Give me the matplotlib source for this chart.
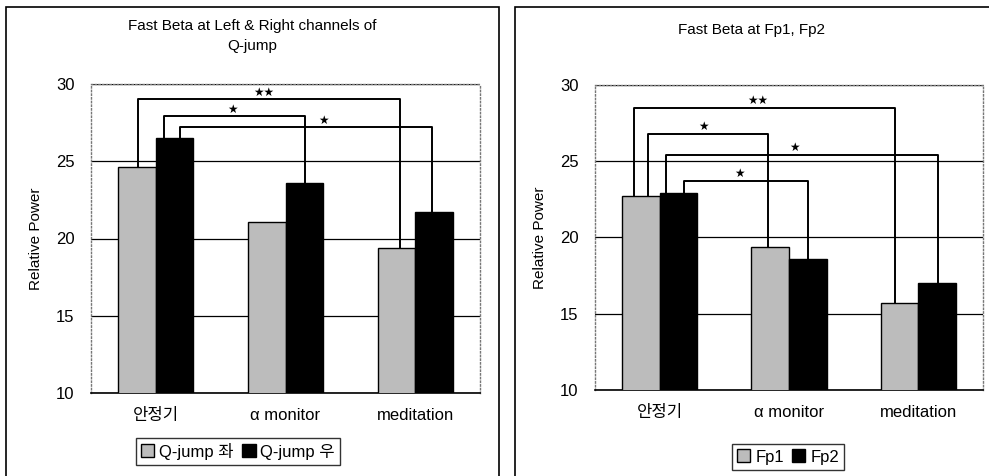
import matplotlib.pyplot as plt
from matplotlib.patches import Patch, Rectangle

plt.rcParams['font.family'] = ['Liberation Sans', 'Noto Sans CJK KR', 'DejaVu Sans']

categories = ['안정기', 'α monitor', 'meditation']

# left chart
qjump_left = [24.6, 21.1, 19.4]
qjump_right = [26.5, 23.6, 21.7]
# right chart
fp1 = [22.7, 19.4, 15.7]
fp2 = [22.9, 18.6, 17.0]

# brackets: (left cat, left series, right cat, right series, level, label)
brackets_left = [(0, 0, 2, 0, 29.0, '★★'),
                 (0, 1, 1, 1, 27.9, '★'),
                 (0, 1, 2, 1, 27.2, '★')]
brackets_fp = [(0, 0, 2, 0, 28.5, '★★'),
               (0, 0, 1, 0, 26.8, '★'),
               (0, 1, 2, 1, 25.4, '★'),
               (0, 1, 1, 1, 23.7, '★')]

GRAY = '#bcbcbc'
W = 0.29

fig = plt.figure(figsize=(9.89, 4.76), dpi=100)

# panel frames
fig.patches.append(Rectangle((6 / 989, -0.01), (499 - 6) / 989, 1 - 7 / 476 + 0.01,
                             transform=fig.transFigure, fill=False, lw=1.2, ec='black'))
fig.patches.append(Rectangle((515 / 989, -0.01), 0.5, 1 - 7 / 476 + 0.01,
                             transform=fig.transFigure, fill=False, lw=1.2, ec='black'))


def draw(ax, a, b, brackets, leg_x, star_x, star_dx):
    x = range(len(categories))
    xa = [i - W / 2 for i in x]
    xb = [i + W / 2 for i in x]
    ax.set_axisbelow(True)
    ax.bar(xa, a, W, bottom=0, color=GRAY, edgecolor='black', lw=1, zorder=3)
    ax.bar(xb, b, W, bottom=0, color='black', edgecolor='black', lw=1, zorder=3)
    ax.set_ylim(10, 30)
    ax.set_xlim(-0.5, 2.5)
    ax.set_yticks([10, 15, 20, 25, 30])
    ax.yaxis.grid(True, color='black', lw=0.9)
    ax.tick_params(axis='y', length=0, labelsize=12, pad=12)
    ax.tick_params(axis='x', length=0, labelsize=12, pad=11)
    ax.set_xticks(list(x))
    ax.set_xticklabels(categories)
    for s in ['top', 'right', 'left']:
        ax.spines[s].set_color('#777777')
        ax.spines[s].set_linestyle(':')
        ax.spines[s].set_linewidth(1)
    ax.spines['bottom'].set_linewidth(1.2)
    ax.set_ylabel('Relative Power', fontsize=11, labelpad=9)
    series = [a, b]
    for k, (c1, s1, c2, s2, lvl, lab) in enumerate(brackets):
        x1 = c1 + leg_x[k][0]
        x2 = c2 + leg_x[k][1]
        ax.plot([x1, x1, x2, x2], [series[s1][c1], lvl, lvl, series[s2][c2]],
                color='black', lw=1.4, zorder=4)
        ax.text(star_x[k], lvl + star_dx, lab, family='DejaVu Sans', fontsize=8.5,
                ha='center', va='bottom', zorder=5)


ax1 = fig.add_axes([91 / 989, 1 - 393 / 476, 389 / 989, 309 / 476])
draw(ax1, qjump_left, qjump_right, brackets_left,
     [(-0.14, -0.12), (0.06, 0.15), (0.185, 0.13)],
     [0.83, 0.59, 1.29], 0.05)
fig.text(252 / 989, 1 - 36 / 476, 'Fast Beta at Left & Right channels of\nQ-jump',
         ha='center', va='center', fontsize=11, linespacing=1.6)
fig.legend(handles=[Patch(fc=GRAY, ec='black', label='Q-jump 좌'),
                    Patch(fc='black', ec='black', label='Q-jump 우')],
           loc='center', bbox_to_anchor=(238 / 989, 1 - 451 / 476), ncol=2,
           fontsize=12, frameon=True, fancybox=False, edgecolor='black',
           handlelength=0.8, handleheight=0.8, handletextpad=0.3, columnspacing=0.5,
           borderpad=0.3, borderaxespad=0)

ax2 = fig.add_axes([595 / 989, 1 - 390 / 476, 388 / 989, 305 / 476])
draw(ax2, fp1, fp2, brackets_fp,
     [(-0.2, -0.18), (-0.09, -0.16), (0.05, 0.15), (0.19, 0.15)],
     [0.76, 0.34, 1.04, 0.62], 0.05)
fig.text(752 / 989, 1 - 30 / 476, 'Fast Beta at Fp1, Fp2',
         ha='center', va='center', fontsize=11)
fig.legend(handles=[Patch(fc=GRAY, ec='black', label='Fp1'),
                    Patch(fc='black', ec='black', label='Fp2')],
           loc='center', bbox_to_anchor=(788 / 989, 1 - 457 / 476), ncol=2,
           fontsize=12, frameon=True, fancybox=False, edgecolor='black',
           handlelength=0.8, handleheight=0.8, handletextpad=0.3, columnspacing=0.5,
           borderpad=0.3, borderaxespad=0)

fig.savefig('out.png', dpi=100)
